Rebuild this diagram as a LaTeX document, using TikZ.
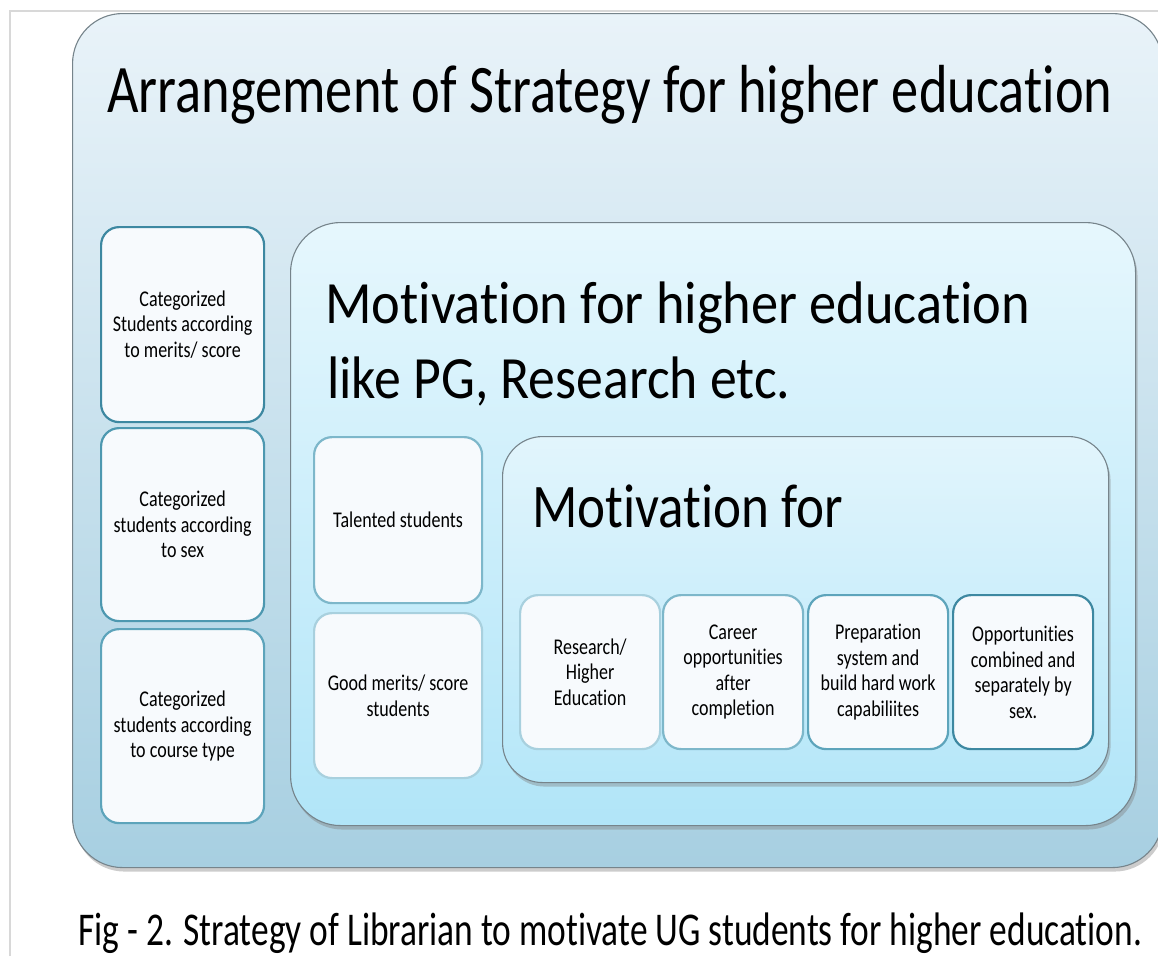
\documentclass[tikz,border=0pt]{standalone}
\usepackage{fontspec}
\setmainfont{Carlito}[FakeStretch=0.8, Ligatures={NoCommon}]
\usetikzlibrary{shadows}

\definecolor{frameline}{HTML}{D8D8D8}
\definecolor{outertop}{HTML}{E9F3F9}
\definecolor{outerbot}{HTML}{A7CFE1}
\definecolor{midtop}{HTML}{E6F7FD}
\definecolor{midbot}{HTML}{B1E5F8}
\definecolor{innertop}{HTML}{E2F5FC}
\definecolor{innerbot}{HTML}{B6E7F9}
\definecolor{edgegray}{HTML}{76848B}
\definecolor{cardfill}{HTML}{F7FAFD}
\definecolor{tealA}{HTML}{3D88A1}
\definecolor{tealB}{HTML}{4D98B0}
\definecolor{tealC}{HTML}{5DA4BB}
\definecolor{tealD}{HTML}{7DB7CA}
\definecolor{tealE}{HTML}{A8D0DE}

% horizontally fit a single line to a given width, keeping its height
\newcommand{\fitline}[3]{\resizebox{#1}{\height}{\fontsize{#2}{#2}\selectfont #3}}

\tikzset{
  panel/.style={rounded corners=#1, line width=1.1pt, draw=edgegray,
    inner sep=0pt, anchor=north west,
    drop shadow={opacity=0.4, shadow xshift=2pt, shadow yshift=-4pt}},
  card/.style={rounded corners=18pt, line width=2.2pt, draw=#1, fill=cardfill,
    inner sep=0pt, anchor=north west, align=center,
    font=\fontsize{22.5pt}{25.5pt}\selectfont},
  heading/.style={anchor=base west, inner sep=0pt}
}

\begin{document}
\begin{tikzpicture}[x=1pt,y=-1pt]
\useasboundingbox (0,0) rectangle (1158,956);
\fill[white] (0,0) rectangle (1158,956);

% page frame
\draw[frameline, line width=2pt] (10,956) -- (10,11) -- (1158,11);

% outer panel
\node[panel=50pt, top color=outertop, bottom color=outerbot,
      minimum width=1090pt, minimum height=854pt] (outer) at (72,13) {};
\node[heading] (title) at (107,112)
  {\fitline{1005pt}{68pt}{Arrangement of Strategy for higher education}};

% left column of categories
\node[card=tealA, minimum width=163pt, minimum height=195pt] (cat1) at (100,226)
  {Categorized\\Students according\\to merits/ score};
\node[card=tealB, minimum width=163pt, minimum height=193pt] (cat2) at (100,427)
  {Categorized\\students according\\to sex};
\node[card=tealC, minimum width=163pt, minimum height=194pt] (cat3) at (100,628)
  {Categorized\\students according\\to course type};

% middle panel
\node[panel=50pt, top color=midtop, bottom color=midbot,
      minimum width=845pt, minimum height=603pt] (middle) at (290,222) {};
\node[heading] (midtitle1) at (325,323)
  {\fitline{705pt}{60pt}{Motivation for higher education}};
\node[heading] (midtitle2) at (327,398)
  {\fitline{463pt}{60pt}{like PG, Research etc.}};

\node[card=tealD, minimum width=168pt, minimum height=166pt] (talent) at (313,436)
  {Talented students};
\node[card=tealE, minimum width=168pt, minimum height=165pt] (merit) at (313,612)
  {Good merits/ score\\students};

% inner panel
\node[panel=40pt, top color=innertop, bottom color=innerbot,
      minimum width=606pt, minimum height=346pt] (inner) at (502,436) {};
\node[heading] (innertitle) at (532,527)
  {\fitline{311pt}{62pt}{Motivation for}};

% motivation items
\node[card=tealE, minimum width=140pt, minimum height=154pt] (research) at (519,594)
  {Research/\\Higher\\Education};
\node[card=tealD, minimum width=140pt, minimum height=154pt] (career) at (662,594)
  {Career\\opportunities\\after\\completion};
\node[card=tealC, minimum width=140pt, minimum height=154pt] (prep) at (807,594)
  {Preparation\\system and\\build hard work\\capabiliites};
\node[card=tealA, minimum width=140pt, minimum height=154pt] (opp) at (952,594)
  {Opportunities\\combined and\\separately by\\sex.};

% caption
\node[heading] (caption) at (78,945)
  {\fitline{1064pt}{47pt}{Fig - 2. Strategy of Librarian to motivate UG students for higher education.}};
\end{tikzpicture}
\end{document}
